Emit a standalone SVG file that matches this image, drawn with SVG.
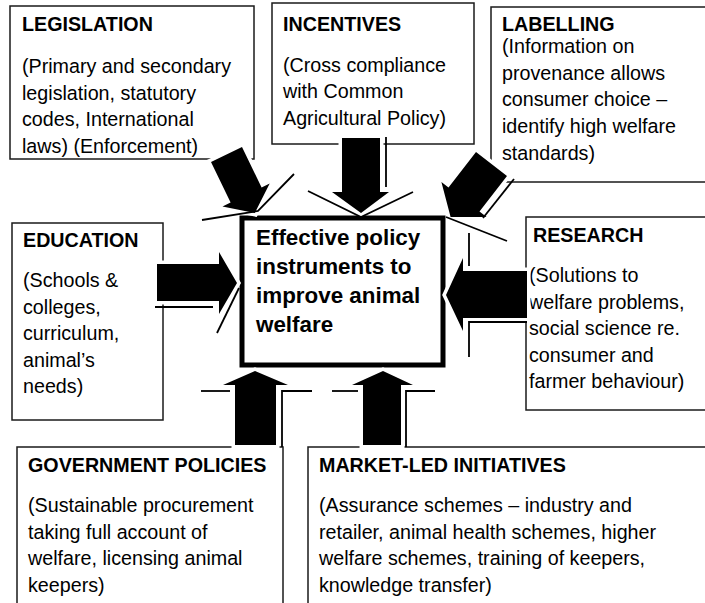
<svg xmlns="http://www.w3.org/2000/svg" width="705" height="603" viewBox="0 0 705 603">
<style>
.box{fill:#fff;stroke:#1a1a1a;stroke-width:1.5}
.core{fill:#fff;stroke:#000;stroke-width:5}
.t{font-family:"Liberation Sans",Arial,sans-serif;font-size:19.7px;fill:#000}
.h{font-weight:bold}
.c{font-family:"Liberation Sans",Arial,sans-serif;font-size:22.4px;font-weight:bold;fill:#000}
.arrow{fill:#000;stroke:#fff;stroke-width:7;paint-order:stroke;stroke-linejoin:miter}
.ol{fill:none;stroke:#000;stroke-width:1.8}
</style>
<rect width="705" height="603" fill="#fff"/>
<g id="legislation">
<rect class="box" x="10" y="6" width="244" height="153"/>
<text class="t h" x="22" y="31">LEGISLATION</text>
<text class="t" x="22" y="73">(Primary and secondary</text>
<text class="t" x="22" y="99.7">legislation, statutory</text>
<text class="t" x="22" y="126.3">codes, International</text>
<text class="t" x="22" y="153">laws) (Enforcement)</text>
</g>
<g id="incentives">
<rect class="box" x="272" y="3" width="202" height="141"/>
<text class="t h" x="283" y="31">INCENTIVES</text>
<text class="t" x="283" y="71.5">(Cross compliance</text>
<text class="t" x="283" y="98">with Common</text>
<text class="t" x="283" y="124.5">Agricultural Policy)</text>
</g>
<g id="labelling">
<rect class="box" x="491" y="7" width="230" height="175"/>
<text class="t h" x="502" y="31">LABELLING</text>
<text class="t" x="502" y="53">(Information on</text>
<text class="t" x="502" y="79.7">provenance allows</text>
<text class="t" x="502" y="106.3">consumer choice –</text>
<text class="t" x="502" y="133">identify high welfare</text>
<text class="t" x="502" y="159.7">standards)</text>
</g>
<g id="education">
<rect class="box" x="12" y="223" width="151" height="197"/>
<text class="t h" x="23" y="247">EDUCATION</text>
<text class="t" x="23" y="287">(Schools &amp;</text>
<text class="t" x="23" y="313.5">colleges,</text>
<text class="t" x="23" y="340">curriculum,</text>
<text class="t" x="23" y="366.5">animal’s</text>
<text class="t" x="23" y="393">needs)</text>
</g>
<g id="research">
<rect class="box" x="526" y="217" width="200" height="193"/>
<text class="t h" x="533" y="242">RESEARCH</text>
<text class="t" x="529" y="282">(Solutions to</text>
<text class="t" x="529" y="308.5">welfare problems,</text>
<text class="t" x="529" y="335">social science re.</text>
<text class="t" x="529" y="361.5">consumer and</text>
<text class="t" x="529" y="388">farmer behaviour)</text>
</g>
<g id="government-policies">
<rect class="box" x="17" y="447" width="266" height="170"/>
<text class="t h" x="28" y="472">GOVERNMENT POLICIES</text>
<text class="t" x="28" y="512">(Sustainable procurement</text>
<text class="t" x="28" y="538.5">taking full account of</text>
<text class="t" x="28" y="565">welfare, licensing animal</text>
<text class="t" x="28" y="591.5">keepers)</text>
</g>
<g id="market-led-initiatives">
<rect class="box" x="308" y="447" width="420" height="170"/>
<text class="t h" x="319" y="472">MARKET-LED INITIATIVES</text>
<text class="t" x="319" y="512">(Assurance schemes – industry and</text>
<text class="t" x="319" y="538.5">retailer, animal health schemes, higher</text>
<text class="t" x="319" y="565">welfare schemes, training of keepers,</text>
<text class="t" x="319" y="591.5">knowledge transfer)</text>
</g>
<g id="core">
<rect class="core" x="242" y="218" width="201" height="147"/>
<text class="c" x="256" y="245">Effective policy</text>
<text class="c" x="256" y="274">instruments to</text>
<text class="c" x="256" y="303">improve animal</text>
<text class="c" x="256" y="332">welfare</text>
</g>
<g id="connectors">
<polygon class="arrow" points="211,162 242,147 261.6,187.5 269.7,183.6 254.8,213 222.5,206.4 230.6,202.5"/>
<polyline class="ol" points="202,220 258,211 294,174"/>
<polygon class="arrow" points="342,138 380,138 380,192 389,192 361,213 332,192 342,192"/>
<polyline class="ol" points="308,191 361,217 413,192"/>
<line class="ol" x1="386" y1="137" x2="386" y2="187"/>
<polygon class="arrow" points="476,152 507,176 479.5,211.6 486.6,217.1 450.6,217 441.4,182.1 448.5,187.6"/>
<line class="ol" x1="514" y1="179" x2="483" y2="218"/>
<line class="ol" x1="446" y1="217" x2="507" y2="241"/>
<polygon class="arrow" points="157,264 219,264 219,252 237,283 219,314 219,301 157,301"/>
<line class="ol" x1="155" y1="307" x2="213" y2="307"/>
<line class="ol" x1="217" y1="333" x2="239" y2="288"/>
<polygon class="arrow" points="527,271 463,271 463,258 446,295 463,331 463,318 527,318"/>
<line class="ol" x1="469" y1="233" x2="469" y2="266"/>
<polyline class="ol" points="527,322 469,322 469,357"/>
<polygon class="arrow" points="235,445 235,385 223,385 255,371 288,385 276,385 276,445"/>
<line class="ol" x1="201" y1="391" x2="230" y2="391"/>
<polyline class="ol" points="312,391 282,391 282,447"/>
<polygon class="arrow" points="363,445 363,385 352,385 383,371 413,385 401,385 401,445"/>
<line class="ol" x1="332" y1="391" x2="358" y2="391"/>
<polyline class="ol" points="435,391 406,391 406,447"/>
</g>
</svg>
